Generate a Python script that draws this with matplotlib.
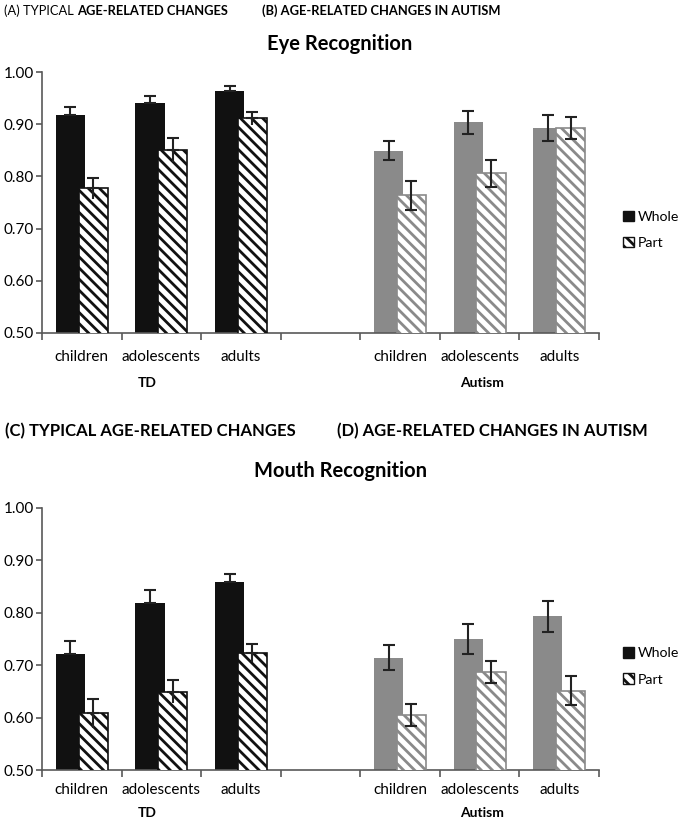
import numpy as np
import matplotlib
matplotlib.use("Agg")
import matplotlib.pyplot as plt
from matplotlib.patches import Patch

plt.rcParams['font.family'] = ['Lato', 'DejaVu Sans']
plt.rcParams['hatch.linewidth'] = 2.0

ages = ["children", "adolescents", "adults"]
groups = ["TD", "Autism"]

# eye recognition
eye_td_whole = [0.918, 0.941, 0.964]
eye_td_whole_err = [0.015, 0.013, 0.009]
eye_td_part = [0.777, 0.851, 0.911]
eye_td_part_err = [0.020, 0.023, 0.012]
eye_aut_whole = [0.849, 0.904, 0.893]
eye_aut_whole_err = [0.018, 0.022, 0.025]
eye_aut_part = [0.764, 0.806, 0.893]
eye_aut_part_err = [0.028, 0.026, 0.021]

# mouth recognition
mouth_td_whole = [0.722, 0.818, 0.858]
mouth_td_whole_err = [0.024, 0.025, 0.016]
mouth_td_part = [0.608, 0.649, 0.723]
mouth_td_part_err = [0.028, 0.022, 0.017]
mouth_aut_whole = [0.714, 0.750, 0.793]
mouth_aut_whole_err = [0.024, 0.028, 0.030]
mouth_aut_part = [0.605, 0.687, 0.651]
mouth_aut_part_err = [0.021, 0.021, 0.028]

W = 679
H = 819
fig = plt.figure(figsize=(W / 100, H / 100), dpi=100)

td_x = np.array([0, 1, 2])
aut_x = np.array([4, 5, 6])
bw = 0.365
off = 0.143
axis_col = '#595959'
grey = '#8a8a8a'
hatch = '\\\\\\'
ekw = dict(fmt='none', ecolor='#222222', elinewidth=1.5, capsize=4,
           capthick=1.5, zorder=4)


def panel(ax, vals, cat_dy, grp_dy):
    tdw, tdwe, tdp, tdpe, aw, awe, ap, ape = vals
    h_px = ax.get_position().height * H
    # TD bars (upper caps only, as in the original)
    ax.bar(td_x - off, tdw, bw, color='#111111', zorder=2)
    ax.errorbar(td_x - off, tdw, yerr=[np.zeros(3), tdwe], **ekw)
    ax.bar(td_x + off, tdp, bw, color='white', edgecolor='#111111',
           hatch=hatch, linewidth=1.2, zorder=3)
    ax.errorbar(td_x + off, tdp, yerr=[np.zeros(3), tdpe], **ekw)
    ax.vlines(td_x + off, np.array(tdp) - np.array(tdpe), tdp,
              color='#222222', lw=1.5, zorder=4)
    # autism bars
    ax.bar(aut_x - off, aw, bw, color=grey, zorder=2)
    ax.bar(aut_x + off, ap, bw, color='white', edgecolor=grey,
           hatch=hatch, linewidth=1.2, zorder=3)
    ax.errorbar(aut_x - off, aw, yerr=awe, **ekw)
    ax.errorbar(aut_x + off, ap, yerr=ape, **ekw)

    ax.set_xlim(-0.5, 6.5)
    ax.set_ylim(0.5, 1.0)
    yt = np.arange(0.5, 1.001, 0.1)
    ax.set_yticks(yt)
    ax.set_yticklabels(["%.2f" % v for v in yt], fontsize=11)
    ax.set_xticks(np.arange(-0.5, 7, 1))
    ax.set_xticklabels([])
    ax.tick_params(axis='x', length=5, color=axis_col, width=1.2)
    ax.tick_params(axis='y', length=4, color=axis_col, width=1.2, pad=2)
    for s in ['top', 'right']:
        ax.spines[s].set_visible(False)
    for s in ['left', 'bottom']:
        ax.spines[s].set_color(axis_col)
        ax.spines[s].set_linewidth(1.2)
    tr = ax.get_xaxis_transform()
    for xs in (td_x, aut_x):
        for x, lab in zip(xs, ages):
            ax.text(x, -cat_dy / h_px, lab, transform=tr,
                    ha='center', va='center', fontsize=11)
    ax.text(0.82, -grp_dy / h_px, groups[0], transform=tr,
            ha='center', va='center', fontsize=10, fontweight='bold')
    ax.text(5.03, -grp_dy / h_px, groups[1], transform=tr,
            ha='center', va='center', fontsize=10, fontweight='bold')

    handles = [Patch(facecolor='#111111', edgecolor='#111111'),
               Patch(facecolor='white', edgecolor='#111111', hatch=hatch)]
    ax.legend(handles, ["Whole", "Part"], loc='center left',
              bbox_to_anchor=(1 + 24 / 557, 0.395), frameon=False, fontsize=10.2,
              handlelength=0.75, handleheight=0.75, handletextpad=0.3,
              labelspacing=1.0, borderpad=0, borderaxespad=0)


ax1 = fig.add_axes([42 / W, 1 - 333 / H, 557 / W, 261 / H])
panel(ax1, [eye_td_whole, eye_td_whole_err, eye_td_part, eye_td_part_err,
            eye_aut_whole, eye_aut_whole_err, eye_aut_part, eye_aut_part_err],
      24, 50)

ax2 = fig.add_axes([42 / W, 1 - 770 / H, 557 / W, 262.3 / H])
panel(ax2, [mouth_td_whole, mouth_td_whole_err, mouth_td_part, mouth_td_part_err,
            mouth_aut_whole, mouth_aut_whole_err, mouth_aut_part, mouth_aut_part_err],
      20, 43)

# headings
t = fig.text(4 / W, 1 - 11 / H, "(A) TYPICAL ", fontsize=9.3, va='center', ha='left')
fig.canvas.draw()
bb = t.get_window_extent()
fig.text(bb.x1 / W, 1 - 11 / H, "AGE-RELATED CHANGES", fontsize=9.3,
         fontweight='bold', va='center', ha='left')
fig.text(262 / W, 1 - 11 / H, "(B) AGE-RELATED CHANGES IN AUTISM", fontsize=9.3,
         fontweight='bold', va='center', ha='left')
fig.text(340 / W, 1 - 44 / H, "Eye Recognition", fontsize=14.5,
         fontweight='bold', va='center', ha='center')

fig.text(5 / W, 1 - 431 / H, "(C) TYPICAL AGE-RELATED CHANGES", fontsize=12,
         fontweight='bold', va='center', ha='left')
fig.text(337 / W, 1 - 431 / H, "(D) AGE-RELATED CHANGES IN AUTISM", fontsize=12,
         fontweight='bold', va='center', ha='left')
fig.text(340 / W, 1 - 471 / H, "Mouth Recognition", fontsize=14.5,
         fontweight='bold', va='center', ha='center')

fig.savefig("out.png", dpi=100)
